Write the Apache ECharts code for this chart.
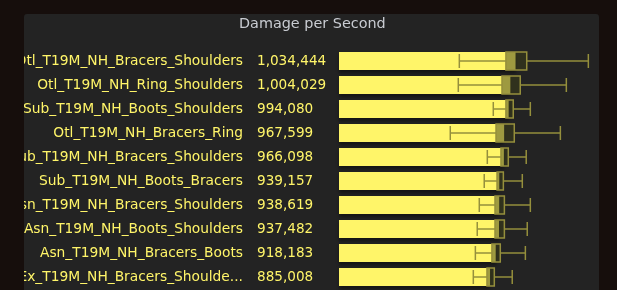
<!DOCTYPE html>
<html>
<head>
<meta charset="utf-8">
<script src="https://cdn.jsdelivr.net/npm/echarts@6/dist/echarts.min.js"></script>
<style>
html,body{margin:0;padding:0;background:#160e0c;}
#c{width:617px;height:290px;}
</style>
</head>
<body>
<div id="c"></div>
<script>
var names = ['Otl_T19M_NH_Bracers_Shoulders','Otl_T19M_NH_Ring_Shoulders','Sub_T19M_NH_Boots_Shoulders','Otl_T19M_NH_Bracers_Ring','Sub_T19M_NH_Bracers_Shoulders','Sub_T19M_NH_Boots_Bracers','Asn_T19M_NH_Bracers_Shoulders','Asn_T19M_NH_Boots_Shoulders','Asn_T19M_NH_Bracers_Boots','Ex_T19M_NH_Bracers_Shoulde...'];
var dps = [1034444,1004029,994080,967599,966098,939157,938619,937482,918183,885008];
var lowWhisker = [705000,699000,904000,652000,869000,851000,822000,810000,799000,787000];
var q1 = [978000,955000,978000,920000,949000,926000,914000,914000,896000,867000];
var q3 = [1100000,1062000,1021000,1027000,992000,963000,969000,969000,945000,910000];
var highWhisker = [1461000,1332000,1121000,1297000,1097000,1074000,1121000,1103000,1092000,1015000];
var xMax = 1500000;

var YELLOW = '#FFF569';
var OLIVE = '#958f3c';

var chart = echarts.init(document.getElementById('c'), null, {renderer:'canvas'});
var boxData = names.map(function(n,i){ return [i, lowWhisker[i], q1[i], q3[i], highWhisker[i]]; });

chart.setOption({
  backgroundColor: '#160e0c',
  animation: false,
  title: {
    text: 'Damage per Second',
    left: 234, top: 12,
    textStyle: {color: '#c9ccd2', fontSize: 14.4, fontWeight: 'normal', fontFamily: 'DejaVu Sans'}
  },
  graphic: [
    {type:'rect', z:-10, silent:true, shape:{x:24,y:14,width:575,height:300,r:3}, style:{fill:'#232323'}},
    {type:'rect', z:100, silent:true, shape:{x:0,y:0,width:24,height:290}, style:{fill:'#160e0c'}}
  ],
  grid: {left: 339, right: 22, top: 49, bottom: 1, containLabel: false},
  xAxis: {type:'value', min:0, max:xMax, show:false},
  yAxis: [
    {type:'category', data:names, inverse:true, axisLine:{show:false}, axisTick:{show:false}, splitLine:{show:false},
     axisLabel:{color:YELLOW, fontSize:13.8, fontFamily:'DejaVu Sans', margin:96, align:'right'}},
    {type:'category', data:dps.map(function(v){return v.toLocaleString('en-US');}), inverse:true, position:'left',
     axisLine:{show:false}, axisTick:{show:false}, splitLine:{show:false},
     axisLabel:{color:YELLOW, fontSize:13.6, fontFamily:'DejaVu Sans', margin:82, align:'left'}}
  ],
  series: [
    {type:'bar', data:dps, barWidth:18, yAxisIndex:0,
     itemStyle:{color:YELLOW, shadowColor:'rgba(0,0,0,0.4)', shadowBlur:3, shadowOffsetY:3}},
    {type:'custom', yAxisIndex:0, data:boxData, z:3,
     renderItem: function(params, api){
       var cat = api.value(0);
       var pLow = api.coord([api.value(1), cat]);
       var pQ1 = api.coord([api.value(2), cat]);
       var pQ3 = api.coord([api.value(3), cat]);
       var pHigh = api.coord([api.value(4), cat]);
       var cy = pQ1[1];
       var bh = 18, ch = 14;
       var ls = {stroke: OLIVE, lineWidth: 1.5, fill: null};
       return {type:'group', children:[
         {type:'line', shape:{x1:pLow[0], y1:cy, x2:pQ1[0], y2:cy}, style:ls},
         {type:'line', shape:{x1:pQ3[0], y1:cy, x2:pHigh[0], y2:cy}, style:ls},
         {type:'line', shape:{x1:pLow[0], y1:cy-ch/2, x2:pLow[0], y2:cy+ch/2}, style:ls},
         {type:'line', shape:{x1:pHigh[0], y1:cy-ch/2, x2:pHigh[0], y2:cy+ch/2}, style:ls},
         {type:'rect', shape:{x:pQ1[0], y:cy-bh/2, width:pQ3[0]-pQ1[0], height:bh},
          style:{fill:'rgba(61,63,24,0.5)', stroke:OLIVE, lineWidth:1.5}}
       ]};
     }}
  ]
});
</script>
</body>
</html>
